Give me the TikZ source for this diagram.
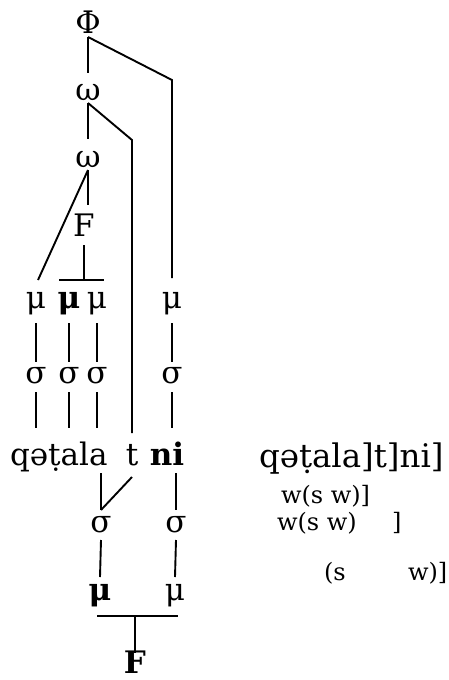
\documentclass[tikz,border=0pt]{standalone}
\usepackage{fontspec}
\setmainfont{DejaVu Serif}
\newcommand\fsbig{\fontsize{31}{36}\selectfont}
\newcommand\fsbigr{\fontsize{32.5}{38}\selectfont}
\newcommand\fssmall{\fontsize{24}{28}\selectfont}
\tikzset{
  sym/.style={inner sep=0pt, outer sep=0pt, anchor=base, font=\fsbig},
  wordtx/.style={inner sep=0pt, outer sep=0pt, anchor=base west, font=\fsbig},
  gloss/.style={inner sep=0pt, outer sep=0pt, anchor=base west, font=\fssmall},
  ln/.style={line width=1.9pt, line join=miter}
}
\begin{document}
\begin{tikzpicture}[x=1pt,y=-1pt]
\useasboundingbox (0,0) rectangle (448,680);
% top tree
\node[sym, text height=22pt, text depth=4pt] (Phi) at (88,33) {Φ};
\node[sym, text height=27pt, text depth=3pt] (w1) at (88,100) {ω};
\node[sym, text height=28pt, text depth=3pt] (w2) at (88,167) {ω};
\node[sym, text height=31pt, text depth=9pt] (F1) at (84,236) {F};
\node[sym, text height=28pt, text depth=15pt] (m1) at (36,308) {μ};
\node[sym, text height=28pt, text depth=15pt, font=\fsbig\bfseries] (m2) at (69,308) {μ};
\node[sym, text height=28pt, text depth=15pt] (m3) at (97,308) {μ};
\node[sym, text height=30pt, text depth=15pt] (m4) at (172,308) {μ};
\node[sym, text height=21pt, text depth=9pt] (s1) at (36,383) {σ};
\node[sym, text height=21pt, text depth=9pt] (s2) at (69,383) {σ};
\node[sym, text height=21pt, text depth=9pt] (s3) at (97,383) {σ};
\node[sym, text height=21pt, text depth=9pt] (s4) at (172,383) {σ};
% word
\node[wordtx, text height=37pt, text depth=8pt] (qet) at (10,465) {qəṭala};
\node[sym, text height=32pt, text depth=12pt] (t) at (132,465) {t};
\node[sym, text height=37pt, text depth=8pt, font=\fsbig\bfseries] (ni) at (167,465) {ni};
% bottom tree
\node[sym, text height=22pt, text depth=8pt] (sb1) at (101,532) {σ};
\node[sym, text height=22pt, text depth=8pt] (sb2) at (176,532) {σ};
\node[sym, text height=23pt, text depth=16pt, font=\fsbig\bfseries] (mb1) at (100,600) {μ};
\node[sym, text height=23pt, text depth=16pt] (mb2) at (175,600) {μ};
\node[sym, text height=20pt, text depth=0pt, font=\fsbig\bfseries] (Fb) at (135,673) {F};
% right texts
\node[wordtx, font=\fsbigr] (rq) at (259,467) {qəṭala]t]ni]};
\node[gloss] (g1) at (281,503) {w(s w)]};
\node[gloss] (g2) at (277,530) {w(s w)};
\node[gloss] (g2b) at (392,530) {]};
\node[gloss] (g3) at (324,580) {(s};
\node[gloss] (g3b) at (408,580) {w)]};
% corners
\coordinate (cPhi) at (172,80);
\coordinate (cT) at (132,140);
% connectors
\draw[ln] (Phi.south) -- (w1.north);
\draw[ln] (Phi.south) -- (cPhi) -- (m4.north);
\draw[ln] (w1.south) -- (w2.north);
\draw[ln] (w1.south) -- (cT) -- (t.north);
\draw[ln] (w2.south) -- ([xshift=2pt]m1.north);
\draw[ln] (w2.south) -- (w2.south |- F1.north);
\draw[ln] (F1.south) -- (F1.south |- m2.north);
\draw[ln] ([xshift=-10pt]m2.north) -- ([xshift=7pt]m3.north);
\foreach \a/\b in {m1/s1, m2/s2, m3/s3, m4/s4} \draw[ln] (\a.south) -- (\b.north);
\foreach \a in {s1, s2, s3} \draw[ln] (\a.south) -- (\a.south |- qet.north);
\draw[ln] (s4.south) -- (s4.south |- ni.north);
\draw[ln] (sb1.north |- qet.south) -- (sb1.north);
\draw[ln] (t.south) -- (sb1.north);
\draw[ln] (sb2.north |- ni.south) -- (sb2.north);
\draw[ln] (sb1.south) -- (mb1.north);
\draw[ln] (sb2.south) -- (mb2.north);
\draw[ln] ([xshift=-3pt]mb1.south) -- ([xshift=3pt]mb2.south);
\draw[ln] (Fb.north |- mb1.south) -- (Fb.north);
\end{tikzpicture}
\end{document}
